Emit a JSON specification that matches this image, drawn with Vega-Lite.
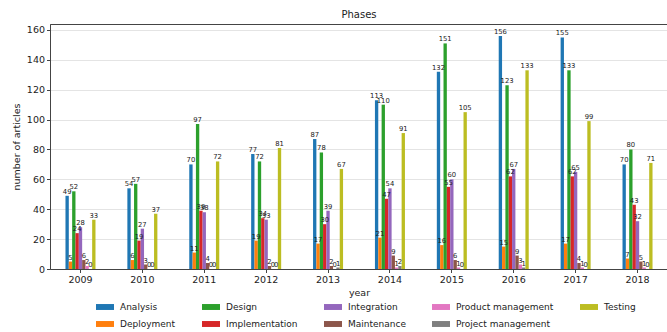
{
  "$schema": "https://vega.github.io/schema/vega-lite/v6.json",
  "autosize": "none",
  "width": 618,
  "height": 245,
  "padding": {"left": 50, "top": 24, "right": 0, "bottom": 63},
  "background": "white",
  "title": {
    "text": "Phases",
    "anchor": "middle",
    "offset": 4,
    "font": "DejaVu Sans",
    "fontSize": 10,
    "fontWeight": "normal",
    "color": "#222"
  },
  "data": {
    "values": [
      {"year": "2009", "phase": "Analysis", "n": 49},
      {"year": "2009", "phase": "Deployment", "n": 5},
      {"year": "2009", "phase": "Design", "n": 52},
      {"year": "2009", "phase": "Implementation", "n": 24},
      {"year": "2009", "phase": "Integration", "n": 28},
      {"year": "2009", "phase": "Maintenance", "n": 6},
      {"year": "2009", "phase": "Product management", "n": 2},
      {"year": "2009", "phase": "Project management", "n": 0},
      {"year": "2009", "phase": "Testing", "n": 33},
      {"year": "2010", "phase": "Analysis", "n": 54},
      {"year": "2010", "phase": "Deployment", "n": 6},
      {"year": "2010", "phase": "Design", "n": 57},
      {"year": "2010", "phase": "Implementation", "n": 19},
      {"year": "2010", "phase": "Integration", "n": 27},
      {"year": "2010", "phase": "Maintenance", "n": 3},
      {"year": "2010", "phase": "Product management", "n": 0},
      {"year": "2010", "phase": "Project management", "n": 0},
      {"year": "2010", "phase": "Testing", "n": 37},
      {"year": "2011", "phase": "Analysis", "n": 70},
      {"year": "2011", "phase": "Deployment", "n": 11},
      {"year": "2011", "phase": "Design", "n": 97},
      {"year": "2011", "phase": "Implementation", "n": 39},
      {"year": "2011", "phase": "Integration", "n": 38},
      {"year": "2011", "phase": "Maintenance", "n": 4},
      {"year": "2011", "phase": "Product management", "n": 0},
      {"year": "2011", "phase": "Project management", "n": 0},
      {"year": "2011", "phase": "Testing", "n": 72},
      {"year": "2012", "phase": "Analysis", "n": 77},
      {"year": "2012", "phase": "Deployment", "n": 19},
      {"year": "2012", "phase": "Design", "n": 72},
      {"year": "2012", "phase": "Implementation", "n": 34},
      {"year": "2012", "phase": "Integration", "n": 33},
      {"year": "2012", "phase": "Maintenance", "n": 2},
      {"year": "2012", "phase": "Product management", "n": 0},
      {"year": "2012", "phase": "Project management", "n": 0},
      {"year": "2012", "phase": "Testing", "n": 81},
      {"year": "2013", "phase": "Analysis", "n": 87},
      {"year": "2013", "phase": "Deployment", "n": 17},
      {"year": "2013", "phase": "Design", "n": 78},
      {"year": "2013", "phase": "Implementation", "n": 30},
      {"year": "2013", "phase": "Integration", "n": 39},
      {"year": "2013", "phase": "Maintenance", "n": 2},
      {"year": "2013", "phase": "Product management", "n": 0},
      {"year": "2013", "phase": "Project management", "n": 1},
      {"year": "2013", "phase": "Testing", "n": 67},
      {"year": "2014", "phase": "Analysis", "n": 113},
      {"year": "2014", "phase": "Deployment", "n": 21},
      {"year": "2014", "phase": "Design", "n": 110},
      {"year": "2014", "phase": "Implementation", "n": 47},
      {"year": "2014", "phase": "Integration", "n": 54},
      {"year": "2014", "phase": "Maintenance", "n": 9},
      {"year": "2014", "phase": "Product management", "n": 1},
      {"year": "2014", "phase": "Project management", "n": 2},
      {"year": "2014", "phase": "Testing", "n": 91},
      {"year": "2015", "phase": "Analysis", "n": 132},
      {"year": "2015", "phase": "Deployment", "n": 16},
      {"year": "2015", "phase": "Design", "n": 151},
      {"year": "2015", "phase": "Implementation", "n": 55},
      {"year": "2015", "phase": "Integration", "n": 60},
      {"year": "2015", "phase": "Maintenance", "n": 6},
      {"year": "2015", "phase": "Product management", "n": 1},
      {"year": "2015", "phase": "Project management", "n": 0},
      {"year": "2015", "phase": "Testing", "n": 105},
      {"year": "2016", "phase": "Analysis", "n": 156},
      {"year": "2016", "phase": "Deployment", "n": 15},
      {"year": "2016", "phase": "Design", "n": 123},
      {"year": "2016", "phase": "Implementation", "n": 62},
      {"year": "2016", "phase": "Integration", "n": 67},
      {"year": "2016", "phase": "Maintenance", "n": 9},
      {"year": "2016", "phase": "Product management", "n": 3},
      {"year": "2016", "phase": "Project management", "n": 1},
      {"year": "2016", "phase": "Testing", "n": 133},
      {"year": "2017", "phase": "Analysis", "n": 155},
      {"year": "2017", "phase": "Deployment", "n": 17},
      {"year": "2017", "phase": "Design", "n": 133},
      {"year": "2017", "phase": "Implementation", "n": 62},
      {"year": "2017", "phase": "Integration", "n": 65},
      {"year": "2017", "phase": "Maintenance", "n": 4},
      {"year": "2017", "phase": "Product management", "n": 1},
      {"year": "2017", "phase": "Project management", "n": 0},
      {"year": "2017", "phase": "Testing", "n": 99},
      {"year": "2018", "phase": "Analysis", "n": 70},
      {"year": "2018", "phase": "Deployment", "n": 7},
      {"year": "2018", "phase": "Design", "n": 80},
      {"year": "2018", "phase": "Implementation", "n": 43},
      {"year": "2018", "phase": "Integration", "n": 32},
      {"year": "2018", "phase": "Maintenance", "n": 5},
      {"year": "2018", "phase": "Product management", "n": 1},
      {"year": "2018", "phase": "Project management", "n": 0},
      {"year": "2018", "phase": "Testing", "n": 71}
    ]
  },
  "encoding": {
    "x": {
      "field": "year",
      "type": "nominal",
      "scale": {"paddingInner": 0.515, "paddingOuter": 0.25},
      "axis": {
        "title": "year",
        "labelAngle": 0,
        "labelFont": "DejaVu Sans",
        "labelFontSize": 9.5,
        "labelColor": "#222",
        "labelPadding": 2,
        "tickSize": 3.5,
        "tickColor": "#444",
        "domainColor": "#444",
        "titleFont": "DejaVu Sans",
        "titleFontSize": 9.5,
        "titleFontWeight": "normal",
        "titleColor": "#222",
        "titlePadding": 3
      }
    },
    "xOffset": {
      "field": "phase",
      "type": "nominal",
      "scale": {
        "domain": ["Analysis", "Deployment", "Design", "Implementation", "Integration", "Maintenance", "Product management", "Project management", "Testing"],
        "paddingInner": 0,
        "paddingOuter": 0
      }
    },
    "y": {
      "field": "n",
      "type": "quantitative",
      "scale": {"domain": [0, 164], "nice": false},
      "axis": {
        "title": "number of articles",
        "values": [0, 20, 40, 60, 80, 100, 120, 140, 160],
        "labelFont": "DejaVu Sans",
        "labelFontSize": 9.5,
        "labelColor": "#222",
        "labelPadding": 2,
        "tickSize": 3.5,
        "tickColor": "#444",
        "domainColor": "#444",
        "grid": true,
        "gridColor": "#e4e4e4",
        "titleFont": "DejaVu Sans",
        "titleFontSize": 9.5,
        "titleFontWeight": "normal",
        "titleColor": "#222",
        "titlePadding": 5
      }
    }
  },
  "layer": [
    {
      "mark": {"type": "bar", "cornerRadius": 0},
      "encoding": {
        "color": {
          "field": "phase",
          "type": "nominal",
          "scale": {
            "domain": ["Analysis", "Design", "Integration", "Product management", "Testing", "Deployment", "Implementation", "Maintenance", "Project management"],
            "range": ["#1f77b4", "#2ca02c", "#9467bd", "#e377c2", "#bcbd22", "#ff7f0e", "#d62728", "#8c564b", "#7f7f7f"]
          },
          "legend": {
            "title": null,
            "orient": "none",
            "legendX": 46,
            "legendY": 274,
            "direction": "horizontal",
            "columns": 5,
            "columnPadding": 26,
            "rowPadding": 3,
            "symbolType": "M-1,-0.33H1V0.33H-1Z",
            "symbolSize": 324,
            "symbolStrokeWidth": 0,
            "labelFont": "DejaVu Sans",
            "labelFontSize": 9,
            "labelColor": "#222",
            "labelOffset": 6,
            "padding": 0
          }
        }
      }
    },
    {
      "mark": {
        "type": "text",
        "baseline": "bottom",
        "dy": -1,
        "font": "DejaVu Sans",
        "fontSize": 6.8,
        "color": "#222"
      },
      "encoding": {
        "text": {"field": "n", "type": "quantitative"}
      }
    }
  ],
  "config": {
    "view": {"stroke": "#444", "strokeWidth": 1}
  }
}
